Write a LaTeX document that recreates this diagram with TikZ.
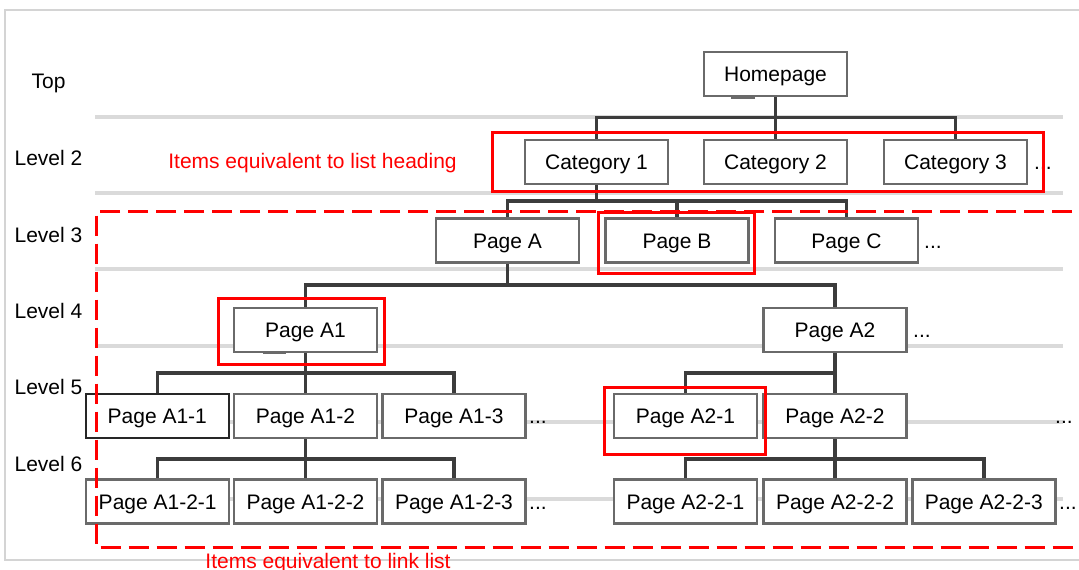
\documentclass[tikz,border=0pt]{standalone}
\usepackage{fontspec}
\setmainfont{Liberation Sans}
\definecolor{boxgray}{HTML}{6A6A6A}
\definecolor{conngray}{HTML}{3C3C3C}
\definecolor{lvlgray}{HTML}{DADADA}
\definecolor{framegray}{HTML}{D4D4D4}
\definecolor{hired}{HTML}{FF0000}
\begin{document}
\begin{tikzpicture}[x=1pt,y=-1pt,
  box/.style={draw=boxgray, line width=2.5pt, fill=white, minimum width=143pt, minimum height=44pt,
    inner sep=0pt, text height=15pt, text depth=0pt, font=\fontsize{21}{25}\selectfont},
  darkbox/.style={box, draw=black!85},
  conn/.style={draw=conngray, line width=3.5pt},
  lvl/.style={draw=lvlgray, line width=3.5pt},
  redbox/.style={draw=hired, line width=3pt},
  reddash/.style={draw=hired, line width=3pt, dash pattern=on 20pt off 8pt},
  lbl/.style={font=\fontsize{21}{25}\selectfont, anchor=base, inner sep=0pt},
  redlbl/.style={lbl, text=hired},
  dots/.style={font=\fontsize{21}{25}\selectfont, anchor=base west, inner sep=0pt}]
\useasboundingbox (0,0) rectangle (1079,570);
\clip (0,0) rectangle (1079,570);
\fill[white] (0,0) rectangle (1079,570);
% frame
\draw[draw=framegray, line width=1.5pt] (5,10) rectangle (1095,560);
% level lines
\foreach \y in {117,193,269,346,422,499}
  \draw[lvl] (95,\y) -- (1063,\y);
% level labels
\node[lbl] (lt) at (48.5,88.5) {Top};
\node[lbl] (l2) at (48.5,165.3) {Level 2};
\node[lbl] (l3) at (48.5,242) {Level 3};
\node[lbl] (l4) at (48.5,318.3) {Level 4};
\node[lbl] (l5) at (48.5,394) {Level 5};
\node[lbl] (l6) at (48.5,471) {Level 6};
% nodes
\node[box] (home) at (775.5,74) {Homepage};
\node[box] (c1) at (596.5,162) {Category 1};
\node[box] (c2) at (775.5,162) {Category 2};
\node[box] (c3) at (955.5,162) {Category 3};
\node[box] (pa) at (507.5,240.5) {Page A};
\node[box] (pb) at (677,240.5) {Page B};
\node[box] (pc) at (846.5,240.5) {Page C};
\node[box] (pa1) at (305.5,330) {Page A1};
\node[box] (pa2) at (835,330) {Page A2};
\node[darkbox] (a11) at (157.3,416) {Page A1-1};
\node[box] (a12) at (305.5,416) {Page A1-2};
\node[box] (a13) at (454,416) {Page A1-3};
\node[box] (a21) at (685.5,416) {Page A2-1};
\node[box] (a22) at (835,416) {Page A2-2};
\node[box] (a121) at (157.7,501.5) {Page A1-2-1};
\node[box] (a122) at (305.5,501.5) {Page A1-2-2};
\node[box] (a123) at (454,501.5) {Page A1-2-3};
\node[box] (a221) at (685.5,501.5) {Page A2-2-1};
\node[box] (a222) at (835,501.5) {Page A2-2-2};
\node[box] (a223) at (983.75,501.5) {Page A2-2-3};
% connectors
\coordinate (bh) at (home.south |- 0,117.5);
\draw[conn] (home.south) -- (bh);
\foreach \k in {c1,c2,c3} \draw[conn] (bh) -| (\k.north);
\coordinate (bc) at (c1.south |- 0,201);
\draw[conn] (c1.south) -- (bc);
\foreach \k in {pa,pb,pc} \draw[conn] (bc) -| (\k.north);
\coordinate (bpa) at (pa.south |- 0,285);
\draw[conn] (pa.south) -- (bpa);
\foreach \k in {pa1,pa2} \draw[conn] (bpa) -| (\k.north);
\coordinate (bpa1) at (pa1.south |- 0,373);
\draw[conn] (pa1.south) -- (bpa1);
\foreach \k in {a11,a12,a13} \draw[conn] (bpa1) -| (\k.north);
\coordinate (bpa2) at (pa2.south |- 0,373);
\draw[conn] (pa2.south) -- (bpa2);
\foreach \k in {a21,a22} \draw[conn] (bpa2) -| (\k.north);
\coordinate (ba12) at (a12.south |- 0,459);
\draw[conn] (a12.south) -- (ba12);
\foreach \k in {a121,a122,a123} \draw[conn] (ba12) -| (\k.north);
\coordinate (ba22) at (a22.south |- 0,459);
\draw[conn] (a22.south) -- (ba22);
\foreach \k in {a221,a222,a223} \draw[conn] (ba22) -| (\k.north);
% redraw boxes on top of connectors
\foreach \k/\t in {home/Homepage,c1/Category 1,c2/Category 2,c3/Category 3,pa/Page A,pb/Page B,pc/Page C,pa1/Page A1,pa2/Page A2,a12/Page A1-2,a13/Page A1-3,a21/Page A2-1,a22/Page A2-2,a121/Page A1-2-1,a122/Page A1-2-2,a123/Page A1-2-3,a221/Page A2-2-1,a222/Page A2-2-2,a223/Page A2-2-3}
  \node[box] at (\k) {\t};
\node[darkbox] at (a11) {Page A1-1};
% small marks
\draw[draw=boxgray, line width=2pt] (731,97.5) -- (755,97.5);
\draw[draw=boxgray, line width=2pt] (263,353) -- (286,353);
% dots
\node[dots] (d1) at (1034,169.5) {...};
\node[dots] (d2) at (924,248) {...};
\node[dots] (d3) at (913,337.5) {...};
\node[dots] (d4) at (529,423.5) {...};
\node[dots] (d5) at (1055,423.5) {...};
\node[dots] (d6) at (529,509) {...};
\node[dots] (d7) at (1059,509) {...};
% red highlights
\draw[redbox] (492,132) rectangle (1043,191);
\draw[redbox] (598.5,212) rectangle (754,273);
\draw[redbox] (218,298) rectangle (384,364);
\draw[redbox] (604,387) rectangle (765.5,454);
\draw[reddash] (1100,211) -- (96.5,211) -- (96.5,547.5) -- (1100,547.5);
\node[redlbl] (t1) at (312.5,168.5) {Items equivalent to list heading};
\node[redlbl] (t2) at (328,568.5) {Items equivalent to link list};
\end{tikzpicture}
\end{document}
